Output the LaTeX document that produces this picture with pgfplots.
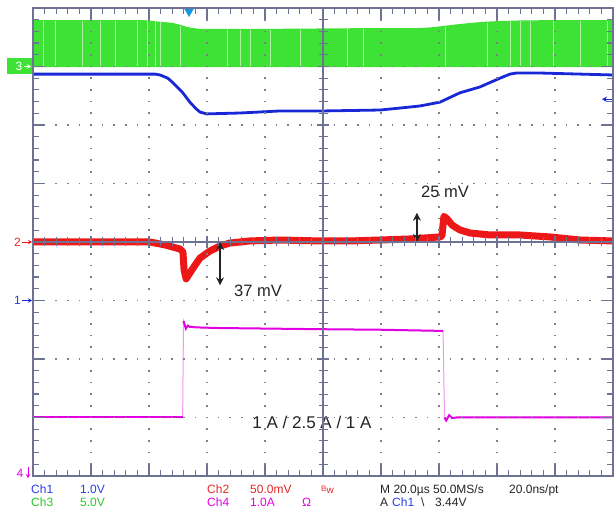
\documentclass[border=0pt]{standalone}
\usepackage{pgfplots}
\usepackage{pgfplotstable}
\pgfplotsset{compat=1.18}
\usepackage{fontspec}
\setmainfont{Liberation Sans}
\usetikzlibrary{arrows.meta}

\definecolor{chblue}{RGB}{25,40,215}
\definecolor{chred}{RGB}{236,24,24}
\definecolor{chgreen}{RGB}{62,226,52}
\definecolor{chstreak}{RGB}{172,244,162}
\definecolor{chmag}{RGB}{226,0,226}
\definecolor{chpink}{RGB}{242,150,242}
\definecolor{grat}{RGB}{112,114,148}
\definecolor{gdot}{RGB}{128,128,138}
\definecolor{trig}{RGB}{20,150,225}
\definecolor{txtblue}{RGB}{40,60,230}
\definecolor{txtgreen}{RGB}{40,200,40}
\definecolor{txtred}{RGB}{230,40,40}
\definecolor{ink}{RGB}{35,35,35}

% Ch1: output voltage in V (1 V/div, ground 1 div below centre)
\pgfplotstableread{
t v
-100 3.87
-57.9 3.87
-56.2 3.855
-53.5 3.80
-51.7 3.72
-48.5 3.56
-45.9 3.39
-43.8 3.28
-42.4 3.22
-40.0 3.19
-28.6 3.205
-14.8 3.24
0 3.24
19.7 3.256
26.6 3.29
33.4 3.325
40.3 3.39
47.2 3.55
54.1 3.65
61.0 3.80
64.5 3.87
66.9 3.89
73.8 3.89
100 3.855
}\chone

% Ch2: output ripple in mV (50 mV/div, AC level at centre)
\pgfplotstableread{
t mv
-100 0
-59.7 0
-54.5 -2.5
-49.3 -6
-48.3 -8.5
-47.9 -24
-47.2 -31.5
-45.9 -26.5
-44.1 -19.7
-42.4 -13.7
-39.0 -7.7
-35.5 -3.4
-32.1 -0.9
-25.2 0.9
-14.8 1.7
-1.0 0.9
9.3 0.9
19.7 1.7
30.0 2.6
40.3 4.3
41.0 5.1
41.7 22
42.8 19.7
44.5 14.5
47.2 10.3
50.7 7.7
57.6 6
67.9 6
78.3 4.3
88.6 1.7
100 0.9
}\chtwo

% Ch3: switch node envelope in V (5 V/div, ground 3 div above centre)
\pgfplotstableread{
t v
-100 3.97
-62 3.97
-58.6 3.89
-55 3.80
-51.7 3.72
-49 3.55
-46.9 3.38
-44.5 3.28
-42.4 3.21
-17.2 3.22
10 3.27
33.4 3.29
37.5 3.35
41.4 3.46
46 3.60
50.7 3.72
55.5 3.82
61.0 3.89
70 3.95
100 3.97
100 -0.05
-100 -0.05
}\chthree

% Ch3: aliasing gaps in the switching band (V)
\pgfplotstableread{
t v
-96.6 3.9
-92.4 3.9
-83.1 3.9
-76.9 3.9
-71.7 3.9
-64.1 3.9
-60.7 3.9
-57.9 3.85
-56.2 3.8
-49.3 3.5
-33.1 3.15
-28.6 3.15
-25.2 3.15
-18.3 3.15
-7.9 3.15
8.3 3.2
13.8 3.2
42.1 3.4
56.6 3.75
64.5 3.85
67.9 3.85
71.4 3.9
79.3 3.9
88.6 3.9
97.9 3.9
}\streaks

% Ch4: load current in A (1 A/div, ground at bottom edge)
\pgfplotstableread{
t a
-100 1.0
-48.4 1.0
-48.1 2.65
-47.3 2.52
-46.6 2.57
-45.9 2.55
-43.4 2.54
-36.6 2.53
-2.1 2.51
20 2.50
41.4 2.48
41.9 1.0
42.5 0.95
43.5 1.04
44.5 0.99
46 1.0
100 1.0
}\chfour

\begin{document}
\begin{tikzpicture}
\useasboundingbox (0,0) rectangle (614pt,508pt);

\begin{axis}[
  at={(33pt,32pt)}, anchor=south west,
  scale only axis, width=580pt, height=468pt,
  xmin=-100, xmax=100, ymin=-4, ymax=4,
  clip=false, axis on top,
  xtick={-100,-80,...,100}, ytick={-4,-3,...,4},
  minor x tick num=4, minor y tick num=4,
  xticklabels={}, yticklabels={},
  tick align=inside,
  major tick length=11pt, minor tick length=6pt,
  axis line style={grat, line width=1.3pt},
  tick style={grat, line width=1.2pt},
  grid=major,
  x grid style={gdot, line width=1.7pt, dash pattern=on 1.7pt off 10pt, dash phase=0.85pt},
  y grid style={gdot, line width=1.7pt, dash pattern=on 1.7pt off 9.9pt, dash phase=0.85pt},
]
  % Ch3 switching band
  \addplot[draw=none, fill=chgreen] table[x=t, y expr=3+\thisrow{v}/5] {\chthree};
  \addplot[draw=none, mark=none,
    error bars/.cd, y dir=minus, y explicit, error mark=none,
    error bar style={draw=chstreak, line width=0.6pt}]
    table[x=t, y expr=3+\thisrow{v}/5, y error minus expr=\thisrow{v}/5] {\streaks};

  % Ch1
  \addplot[chblue, line width=2.8pt, line join=round] table[x=t, y expr=\thisrow{v}-1] {\chone};

  % Ch2
  \addplot[chred, line width=7pt, line join=round] table[x=t, y expr=\thisrow{mv}/50] {\chtwo};

  % Ch4: fast edges faint, flat levels saturated
  \addplot[chpink, line width=1pt] table[x=t, y expr=\thisrow{a}-4] {\chfour};
  \addplot[chmag, line width=2pt, restrict x to domain=-100:-48.35] table[x=t, y expr=\thisrow{a}-4] {\chfour};
  \addplot[chmag, line width=2pt, restrict x to domain=-48.15:41.45] table[x=t, y expr=\thisrow{a}-4] {\chfour};
  \addplot[chmag, line width=2pt, restrict x to domain=41.85:100] table[x=t, y expr=\thisrow{a}-4] {\chfour};

  % trigger position
  \addplot[only marks, mark=triangle*, mark size=5pt,
    mark options={rotate=180, fill=trig, draw=trig}] coordinates {(-46.2,3.94)};

  % ripple annotations (50 mV/div)
  \draw[ink, line width=1.4pt, {Stealth[length=8pt,width=8pt]}-{Stealth[length=8pt,width=8pt]}]
    (axis cs:-35.5,0) -- (axis cs:-35.5,-0.74);
  \node[ink, font=\fontsize{16.5}{18}\selectfont] at (axis cs:-22.4,-0.84) {37 mV};
  \draw[ink, line width=1.4pt, {Stealth[length=8pt,width=8pt]}-{Stealth[length=8pt,width=8pt]}]
    (axis cs:32.4,0) -- (axis cs:32.4,0.5);
  \node[ink, font=\fontsize{16.5}{18}\selectfont] at (axis cs:42.1,0.86) {25 mV};
  \node[ink, font=\fontsize{17}{19}\selectfont] at (axis cs:-3.8,-3.08) {1 A / 2.5 A / 1 A};

  % channel ground markers
  \node[fill=chgreen, minimum width=25pt, minimum height=16pt, inner sep=0pt, anchor=east]
    at ([xshift=-1pt]axis cs:-100,3) {};
  \node[white, font=\fontsize{12}{12}\selectfont] at ([xshift=-14pt]axis cs:-100,3) {3};
  \draw[white, line width=0.9pt, -{Stealth[length=4pt,width=4.5pt]}]
    ([xshift=-9pt]axis cs:-100,3) -- ([xshift=-2pt]axis cs:-100,3);

  \node[txtred, font=\fontsize{12}{12}\selectfont] at ([xshift=-15.5pt]axis cs:-100,0) {2};
  \draw[chred, line width=0.9pt, -{Stealth[length=4pt,width=4.5pt]}]
    ([xshift=-11pt]axis cs:-100,0) -- ([xshift=-1pt]axis cs:-100,0);

  \node[txtblue, font=\fontsize{12}{12}\selectfont] at ([xshift=-15.5pt]axis cs:-100,-1) {1};
  \draw[chblue, line width=0.9pt, -{Stealth[length=4pt,width=4.5pt]}]
    ([xshift=-11pt]axis cs:-100,-1) -- ([xshift=-1pt]axis cs:-100,-1);

  \node[chmag, font=\fontsize{12}{12}\selectfont] at ([xshift=-13pt,yshift=3pt]axis cs:-100,-4) {4};
  \draw[chmag, line width=0.9pt, -{Stealth[length=4pt,width=4.5pt]}]
    ([xshift=-5pt,yshift=9pt]axis cs:-100,-4) -- ([xshift=-5pt,yshift=-2pt]axis cs:-100,-4);

  % trigger level (3.44 V on Ch1)
  \draw[chblue, line width=1.2pt, -{Stealth[length=5pt,width=5.5pt]}]
    ([xshift=1pt]axis cs:100,2.44) -- ([xshift=-11pt]axis cs:100,2.44);
\end{axis}

% centre cross with sub-division ticks
\begin{axis}[
  at={(33pt,32pt)}, anchor=south west,
  scale only axis, width=580pt, height=468pt,
  xmin=-100, xmax=100, ymin=-4, ymax=4,
  axis lines=middle,
  every inner x axis line/.append style={-},
  every inner y axis line/.append style={-},
  axis line style={grat, line width=1.2pt, -},
  xtick={-100,-80,...,100}, ytick={-4,-3,...,4},
  minor x tick num=4, minor y tick num=4,
  xticklabels={}, yticklabels={},
  tick align=center, major tick length=12pt, minor tick length=9pt,
  tick style={grat, line width=1.1pt},
]
\end{axis}

% readout
\begin{scope}[every node/.style={anchor=base west, inner sep=0pt, font=\fontsize{12}{12}\selectfont}]
  \node[txtblue] at (31pt,14pt) {Ch1};
  \node[txtblue] at (80pt,14pt) {1.0V};
  \node[txtred] at (207pt,14pt) {Ch2};
  \node[txtred] at (250pt,14pt) {50.0mV};
  \node[txtred] at (321pt,14pt) {\raisebox{2pt}{\fontsize{8}{8}\selectfont B}\fontsize{10}{10}\selectfont w};
  \node[ink] at (380pt,14pt) {M 20.0µs 50.0MS/s};
  \node[ink] at (509pt,14pt) {20.0ns/pt};
  \node[txtgreen] at (31pt,1.5pt) {Ch3};
  \node[txtgreen] at (80pt,1.5pt) {5.0V};
  \node[chmag] at (207pt,1.5pt) {Ch4};
  \node[chmag] at (250pt,1.5pt) {1.0A};
  \node[chmag] at (302pt,1.5pt) {Ω};
  \node[ink] at (380pt,1.5pt) {A};
  \node[txtblue] at (392pt,1.5pt) {Ch1};
  \node[ink] at (421pt,1.5pt) {\textbackslash};
  \node[ink] at (435pt,1.5pt) {3.44V};
\end{scope}
\end{tikzpicture}
\end{document}
